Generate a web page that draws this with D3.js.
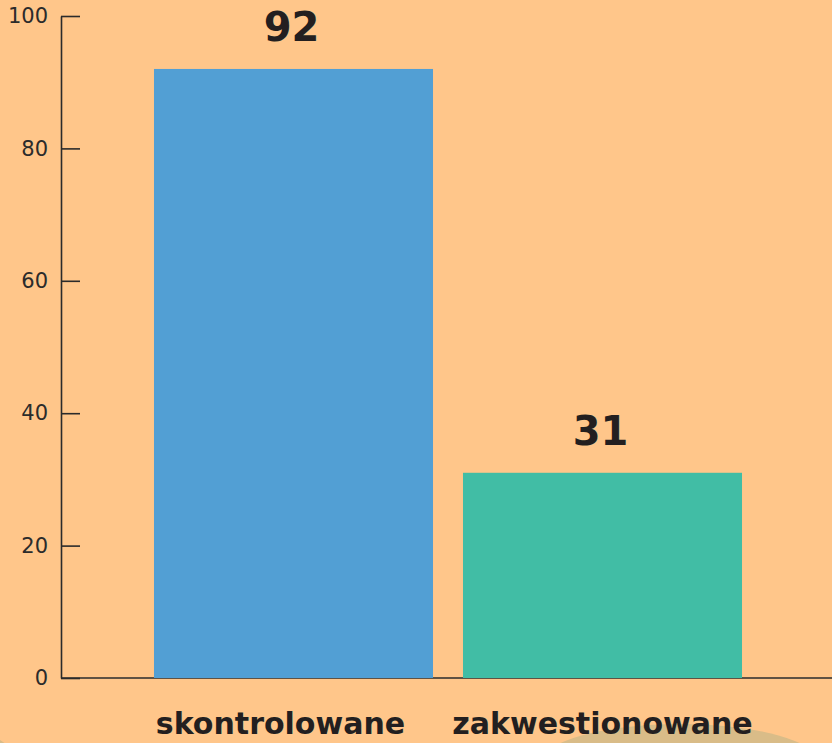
<!DOCTYPE html>
<html>
<head>
<meta charset="utf-8">
<script src="https://cdn.jsdelivr.net/npm/d3@7"></script>
<style>
  html, body { margin: 0; padding: 0; background: #ffc68a; overflow: hidden; }
  svg { display: block; }
</style>
</head>
<body>
<svg width="832" height="743"></svg>
<script>
// values
const categories = ["skontrolowane", "zakwestionowane"]
const values = [92, 31]
const barColors = ["#529fd4", "#41bda5"]
const yTicks = [0, 20, 40, 60, 80, 100]

const width = 832
const height = 743
let axisLeftX = 61
let axisBottomY = 678
let axisTopY = 16

let svg = d3.select("svg")

// background
svg.append("rect")
  .attr("width", width)
  .attr("height", height)
  .attr("fill", "#ffc68a")

// decorative blobs near the bottom edge
svg.append("ellipse")
  .attr("cx", 680).attr("cy", 762)
  .attr("rx", 138).attr("ry", 38)
  .attr("fill", "#d9bc88")
svg.append("ellipse")
  .attr("cx", -30).attr("cy", 772)
  .attr("rx", 50).attr("ry", 40)
  .attr("fill", "#d9bc88")

const x = d3.scaleBand()
  .domain(categories)
  .range([139, 757])
  .paddingInner(0.097)
  .paddingOuter(0.0485)

const y = d3.scaleLinear()
  .domain([0, 100])
  .range([axisBottomY, axisTopY])

// y axis, ticks pointing right
let yAxis = svg.append("g")
  .attr("transform", `translate(${axisLeftX},0)`)
  .call(d3.axisLeft(y).tickValues(yTicks).tickSizeInner(-19).tickSizeOuter(0).tickPadding(13))

yAxis.attr("font-family", "'DejaVu Sans', sans-serif").attr("font-size", 21)
yAxis.select(".domain").attr("stroke", "#2b2b2b").attr("stroke-width", 1.6)
yAxis.selectAll(".tick line").attr("stroke", "#2b2b2b").attr("stroke-width", 1.6)
yAxis.selectAll(".tick text")
  .attr("fill", "#2b2b2b")
  .style("font-size", "21px")

// bottom line
svg.append("line")
  .attr("x1", axisLeftX).attr("x2", width)
  .attr("y1", axisBottomY).attr("y2", axisBottomY)
  .attr("stroke", "#2b2b2b")
  .attr("stroke-width", 1.6)

// bars
svg.selectAll(".bar")
  .data(values)
  .enter()
  .append("rect")
  .attr("class", "bar")
  .attr("x", (d, i) => x(categories[i]))
  .attr("y", d => y(d))
  .attr("width", x.bandwidth())
  .attr("height", d => y(0) - y(d))
  .attr("fill", (d, i) => barColors[i])

// value labels
svg.selectAll(".valueLabel")
  .data(values)
  .enter()
  .append("text")
  .attr("class", "valueLabel")
  .attr("x", (d, i) => x(categories[i]) + x.bandwidth() / 2 - 2)
  .attr("y", d => y(d) - 28)
  .attr("text-anchor", "middle")
  .attr("font-family", "'DejaVu Sans', sans-serif")
  .attr("font-weight", "bold")
  .attr("font-size", "40px")
  .attr("fill", "#231f20")
  .text(d => d)

// category labels (first one sits a bit left of its bar centre)
svg.selectAll(".catLabel")
  .data(categories)
  .enter()
  .append("text")
  .attr("class", "catLabel")
  .attr("x", (d, i) => x(d) + x.bandwidth() / 2 - (i === 0 ? 13 : 0))
  .attr("y", 734)
  .attr("text-anchor", "middle")
  .attr("font-family", "'DejaVu Sans', sans-serif")
  .attr("font-weight", "bold")
  .attr("font-size", "30px")
  .attr("fill", "#231f20")
  .text(d => d)
</script>
</body>
</html>
